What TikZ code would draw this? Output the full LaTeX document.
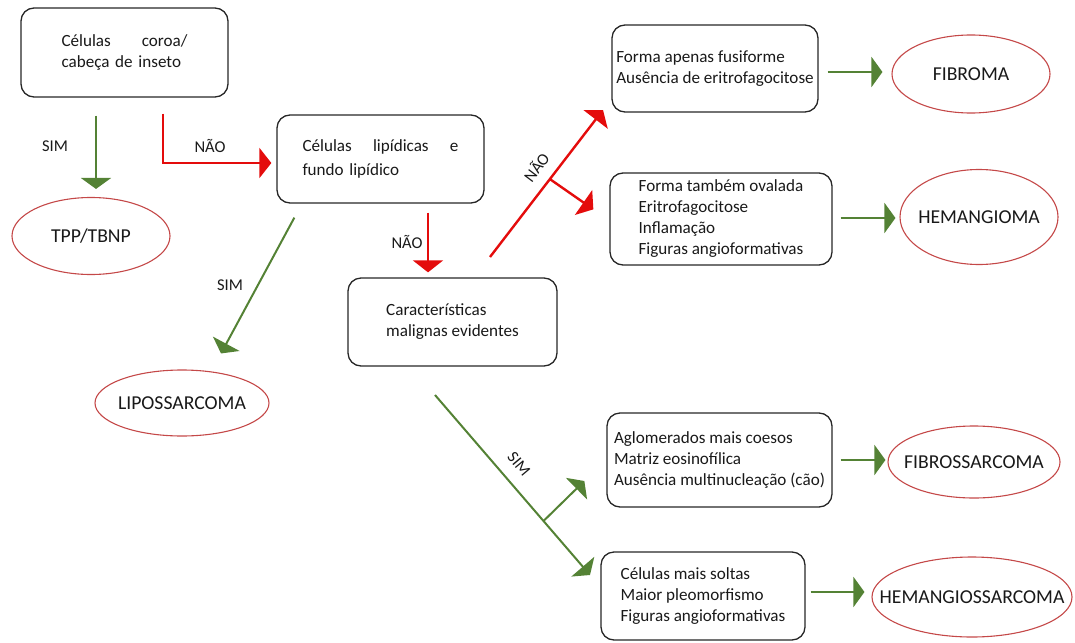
\documentclass[tikz,border=0pt]{standalone}
\usepackage{fontspec}
\setmainfont{Carlito}
\usetikzlibrary{shapes.geometric,arrows.meta,calc}
\definecolor{verdeseta}{RGB}{84,130,53}
\definecolor{vermseta}{RGB}{228,12,12}
\definecolor{bordaelipse}{RGB}{196,72,72}
\begin{document}
\begin{tikzpicture}[x=1pt,y=1pt]
    \tikzstyle{every node}+=[inner sep=0pt, text=black!90]
    \tikzstyle{caixa}=[draw=black!85, line width=1.3pt, rounded corners=13pt, align=left, font=\fontsize{17.1}{21}\selectfont]
    \tikzstyle{diag}=[draw=bordaelipse, line width=1.1pt, ellipse, inner xsep=-25pt, font=\fontsize{19.7}{23}\selectfont]
    \tikzstyle{rotulo}=[font=\fontsize{16.5}{19}\selectfont]
    \tikzstyle{sim}=[draw=verdeseta, line width=2pt, -{Triangle[length=11pt,width=30pt]}]
    \tikzstyle{nao}=[draw=vermseta, line width=2.4pt, -{Triangle[length=12pt,width=30pt]}]
    \useasboundingbox (0,0) rectangle (1075,-642);
    \node [caixa, minimum width=207, minimum height=89, text width=126] (coroa) at (124.5,-52.5) {Células\hfill coroa/\\cabeça de inseto};
    \node [caixa, minimum width=207, minimum height=88, text width=156, font=\fontsize{17.1}{24.5}\selectfont] (lipid) at (380.5,-159) {Células\hfill lipídicas\hfill e\\fundo lipídico};
    \node [caixa, minimum width=209, minimum height=88] (malig) at (452.5,-322) {Características\\malignas evidentes};
    \node [caixa, minimum width=206, minimum height=87] (fusi) at (715,-68.5) {Forma apenas fusiforme\\Ausência de eritrofagocitose};
    \node [caixa, minimum width=222, minimum height=92] (oval) at (721,-219) {Forma também ovalada\\Eritrofagocitose\\Inflamação\\Figuras angioformativas};
    \node [caixa, minimum width=225, minimum height=94] (aglo) at (719.5,-460) {Aglomerados mais coesos\\Matriz eosinofílica\\Ausência multinucleação (cão)};
    \node [caixa, minimum width=204, minimum height=88] (soltas) at (703,-596) {Células mais soltas\\Maior pleomorfismo\\Figuras angioformativas};
    \node [diag, minimum width=158, minimum height=77] (tpp) at (91,-236) {TPP/TBNP};
    \node [diag, minimum width=174, minimum height=66] (lipo) at (182,-403) {LIPOSSARCOMA};
    \node [diag, minimum width=158, minimum height=78] (fibroma) at (971,-74) {FIBROMA};
    \node [diag, minimum width=158, minimum height=95] (hemang) at (979,-217) {HEMANGIOMA};
    \node [diag, minimum width=172, minimum height=72] (fibs) at (974,-462) {FIBROSSARCOMA};
    \node [diag, minimum width=200, minimum height=80] (hems) at (972,-597) {HEMANGIOSSARCOMA};
    \draw [sim] ($(coroa.south -| tpp)+(5,-18)$) -- ($(tpp.north)+(5,8)$);
    \node [rotulo] (sim1) at (55,-146) {SIM};
    \draw [nao] ($(coroa.south)+(38.5,-16)$) |- ($(lipid.west)+(-5,-4)$);
    \node [rotulo] (nao1) at (210,-146) {NÃO};
    \draw [sim] ($(lipid.south west)+(18,-14)$) -- ($(lipo.north)+(39,16)$);
    \node [rotulo] (sim2) at (230,-285) {SIM};
    \draw [nao] ($(lipid.south)+(47.5,-9)$) -- ($(malig.north)+(-24.5,5)$);
    \node [rotulo] (nao2) at (407,-242) {NÃO};
    \coordinate (naoini) at (490,-257);
    \coordinate (naofim) at (603,-110);
    \coordinate (naoram) at ($(naoini)!0.53!(naofim)$);
    \draw [nao] (naoini) -- (naofim);
    \draw [nao] (naoram) -- ($(oval.north west)+(-16,-37)$);
    \node [rotulo, rotate=53] (nao3) at (536,-167) {NÃO};
    \coordinate (simini) at (435,-395);
    \coordinate (simfim) at (590,-575);
    \coordinate (simram) at ($(simini)!0.7!(simfim)$);
    \draw [sim] (simini) -- (simfim);
    \draw [sim] (simram) -- ($(aglo.west)+(-22,-21)$);
    \node [rotulo, rotate=-50] (sim3) at (519,-464) {SIM};
    \draw [sim] ($(fusi.east |- fibroma)+(9,2)$) -- ($(fibroma.west)+(-9,2)$);
    \draw [sim] ($(oval.east |- hemang)+(8,-1)$) -- ($(hemang.west)+(-4,-1)$);
    \draw [sim] ($(aglo.east |- fibs)+(8,2)$) -- ($(fibs.west)+(-2,2)$);
    \draw [sim] ($(soltas.east |- hems)+(5,5)$) -- ($(hems.west)+(-7,5)$);
\end{tikzpicture}
\end{document}
